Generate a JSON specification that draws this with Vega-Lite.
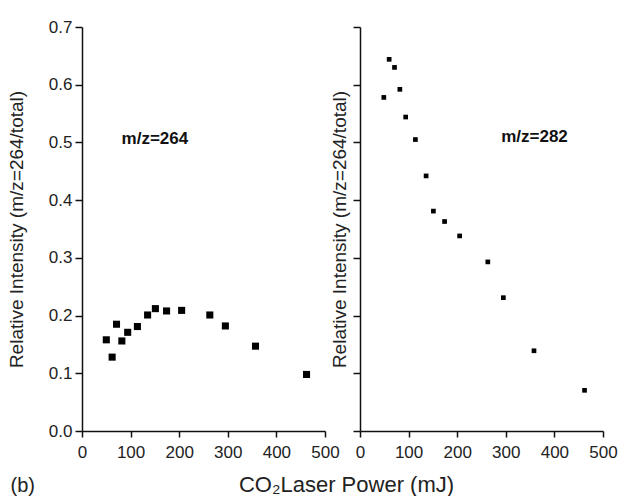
{
  "$schema": "https://vega.github.io/schema/vega-lite/v6.json",
  "background": "white",
  "padding": {"left": 7, "top": 18, "right": 5, "bottom": 5},
  "config": {
    "view": {"stroke": null},
    "font": "Liberation Sans",
    "axis": {
      "domainColor": "#111", "tickColor": "#111", "domainWidth": 1.5, "tickWidth": 1.5,
      "labelColor": "#222", "titleColor": "#222", "labelFontSize": 17, "titleFontSize": 19,
      "titleFontWeight": "normal", "labelFont": "Liberation Sans", "titleFont": "Liberation Sans",
      "grid": false, "labelFlush": false, "labelOverlap": false
    }
  },
  "datasets": {
    "m264": [
      {"power": 50, "ratio": 0.158}, {"power": 62, "ratio": 0.128}, {"power": 71, "ratio": 0.185},
      {"power": 82, "ratio": 0.156}, {"power": 94, "ratio": 0.171}, {"power": 114, "ratio": 0.181},
      {"power": 135, "ratio": 0.201}, {"power": 151, "ratio": 0.212}, {"power": 174, "ratio": 0.208},
      {"power": 205, "ratio": 0.209}, {"power": 263, "ratio": 0.201}, {"power": 295, "ratio": 0.182},
      {"power": 357, "ratio": 0.147}, {"power": 462, "ratio": 0.098}
    ],
    "m282": [
      {"power": 49, "ratio": 0.578}, {"power": 60, "ratio": 0.644}, {"power": 71, "ratio": 0.630},
      {"power": 82, "ratio": 0.592}, {"power": 94, "ratio": 0.544}, {"power": 114, "ratio": 0.505},
      {"power": 136, "ratio": 0.442}, {"power": 151, "ratio": 0.381}, {"power": 174, "ratio": 0.363},
      {"power": 205, "ratio": 0.338}, {"power": 263, "ratio": 0.293}, {"power": 295, "ratio": 0.231},
      {"power": 358, "ratio": 0.139}, {"power": 462, "ratio": 0.0705}
    ],
    "labels": [
      {"panel": "left", "power": 150, "ratio": 0.506, "label": "m/z=264"},
      {"panel": "right", "power": 359, "ratio": 0.51, "label": "m/z=282"}
    ]
  },
  "hconcat": [
    {
      "width": 243, "height": 404,
      "layer": [
        {
          "data": {"name": "m264"},
          "mark": {"type": "point", "shape": "square", "filled": true, "color": "black", "opacity": 1, "size": 50},
          "encoding": {
            "x": {"field": "power", "type": "quantitative",
              "scale": {"domain": [0, 500], "nice": false, "zero": false},
              "axis": {"title": "(b)", "titleAnchor": "start", "titleAlign": "left", "titleX": -72, "titlePadding": 15, "titleFontSize": 20,
                "labelPadding": 7,
                "values": [0, 50, 100, 150, 200, 250, 300, 350, 400, 450, 500],
                "labelExpr": "datum.value % 100 == 0 ? datum.label : ''",
                "tickSize": {"condition": {"test": "datum.value % 100 == 0", "value": 6}, "value": 3.5}}},
            "y": {"field": "ratio", "type": "quantitative",
              "scale": {"domain": [0, 0.7], "nice": false},
              "axis": {"title": "Relative Intensity (m/z=264/total)", "titlePadding": 22, "format": ".1f", "labelPadding": 3,
                "values": [0, 0.05, 0.1, 0.15, 0.2, 0.25, 0.3, 0.35, 0.4, 0.45, 0.5, 0.55, 0.6, 0.65, 0.7],
                "labelExpr": "round(datum.value * 20) % 2 == 0 ? datum.label : ''",
                "tickSize": {"condition": {"test": "round(datum.value * 20) % 2 == 0", "value": 7}, "value": 4}}}
          }
        },
        {
          "data": {"name": "labels"},
          "transform": [{"filter": "datum.panel == 'left'"}],
          "mark": {"type": "text", "fontWeight": "bold", "fontSize": 17, "font": "Liberation Sans", "color": "#111"},
          "encoding": {
            "x": {"field": "power", "type": "quantitative"},
            "y": {"field": "ratio", "type": "quantitative"},
            "text": {"field": "label"}
          }
        }
      ]
    },
    {
      "width": 243, "height": 404,
      "layer": [
        {
          "data": {"name": "m282"},
          "mark": {"type": "point", "shape": "square", "filled": true, "color": "black", "opacity": 1, "size": 22},
          "encoding": {
            "x": {"field": "power", "type": "quantitative",
              "scale": {"domain": [0, 500], "nice": false, "zero": false},
              "axis": {"title": "CO₂Laser Power (mJ)", "titleX": -14, "titleAlign": "center", "titlePadding": 14, "titleFontSize": 22,
                "labelPadding": 7,
                "values": [0, 50, 100, 150, 200, 250, 300, 350, 400, 450, 500],
                "labelExpr": "datum.value % 100 == 0 ? datum.label : ''",
                "tickSize": {"condition": {"test": "datum.value % 100 == 0", "value": 6}, "value": 3.5}}},
            "y": {"field": "ratio", "type": "quantitative",
              "scale": {"domain": [0, 0.7], "nice": false},
              "axis": {"title": "Relative Intensity (m/z=264/total)", "titlePadding": 3, "labels": false,
                "values": [0, 0.05, 0.1, 0.15, 0.2, 0.25, 0.3, 0.35, 0.4, 0.45, 0.5, 0.55, 0.6, 0.65, 0.7],
                "tickSize": {"condition": {"test": "round(datum.value * 20) % 2 == 0", "value": 7}, "value": 4}}}
          }
        },
        {
          "data": {"name": "labels"},
          "transform": [{"filter": "datum.panel == 'right'"}],
          "mark": {"type": "text", "fontWeight": "bold", "fontSize": 17, "font": "Liberation Sans", "color": "#111"},
          "encoding": {
            "x": {"field": "power", "type": "quantitative"},
            "y": {"field": "ratio", "type": "quantitative"},
            "text": {"field": "label"}
          }
        }
      ]
    }
  ],
  "spacing": 35,
  "bounds": "flush"
}
